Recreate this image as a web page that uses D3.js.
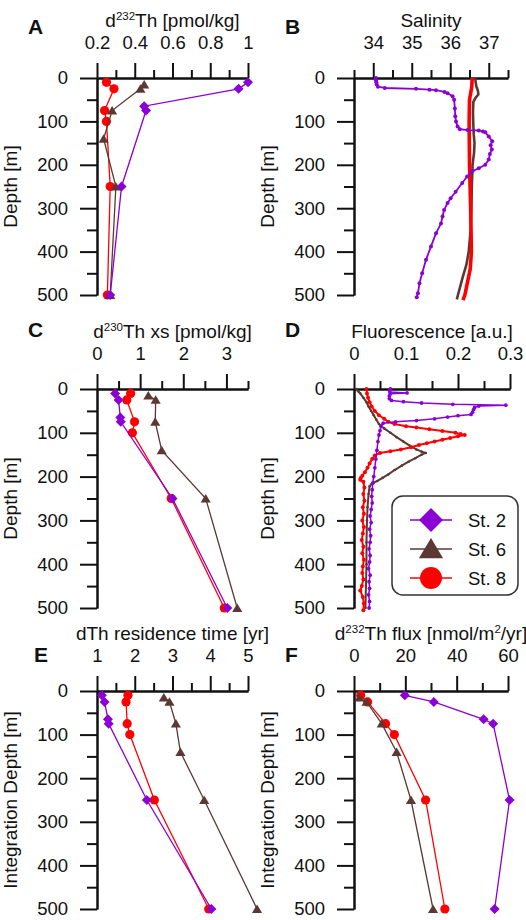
<!DOCTYPE html>
<html>
<head>
<meta charset="utf-8">
<script src="https://cdn.jsdelivr.net/npm/d3@7"></script>
<style>
body { margin: 0; background: #fff; }
text { font-family: "Liberation Sans", Arial, sans-serif; fill: #111; }
</style>
</head>
<body>
<div id="chart"></div>
<script>
// sampling depths of the bottle stations [m]
var st2Depth = [10, 25, 65, 75, 250, 500];
var st6Depth = [15, 25, 75, 140, 250, 500];
var st8Depth = [10, 25, 75, 100, 250, 500];

// A: dissolved 232Th [pmol/kg]
var th232St2 = [1.0, 0.95, 0.45, 0.46, 0.33, 0.27];
var th232St6 = [0.45, 0.43, 0.28, 0.235, 0.30, 0.27];
var th232St8 = [0.25, 0.29, 0.24, 0.25, 0.27, 0.255];

// C: dissolved 230Th xs [pmol/kg]
var th230St2 = [0.42, 0.50, 0.54, 0.55, 1.75, 3.02];
var th230St6 = [1.19, 1.36, 1.35, 1.50, 2.52, 3.25];
var th230St8 = [0.78, 0.69, 0.87, 0.82, 1.72, 2.95];

// E: residence time [yr]
var resSt2 = [1.13, 1.20, 1.29, 1.31, 2.32, 4.03];
var resSt6 = [2.77, 2.92, 3.09, 3.21, 3.84, 5.24];
var resSt8 = [1.82, 1.77, 1.80, 1.87, 2.52, 3.96];

// F: 232Th flux [nmol/m2/yr]
var fluxSt2 = [19.8, 31.1, 50.5, 54.2, 60.6, 54.8];
var fluxSt6 = [2.1, 4.9, 10.8, 16.6, 22.2, 30.8];
var fluxSt8 = [2.6, 5.3, 12.3, 15.7, 27.9, 35.4];

// B: CTD salinity profiles
var salSt2Depth = [0, 5, 10, 15, 20, 23, 25, 27, 28, 32, 35, 42, 50, 70, 88, 100, 112, 118, 120, 121, 123, 125, 135, 146, 155, 165, 175, 188, 200, 208, 215, 227, 242, 262, 277, 288, 304, 319, 335, 358, 388, 419, 450, 473, 496, 505];
var salSt2 = [34.07, 34.07, 34.08, 34.09, 34.12, 34.3, 35.11, 35.46, 35.63, 35.85, 35.93, 36.06, 36.1, 36.12, 36.13, 36.15, 36.19, 36.25, 36.45, 36.74, 36.85, 36.91, 37.0, 37.09, 37.05, 37.08, 37.03, 37.0, 36.91, 36.74, 36.57, 36.44, 36.31, 36.14, 36.01, 35.93, 35.84, 35.8, 35.76, 35.63, 35.5, 35.37, 35.27, 35.2, 35.16, 35.13];
var salSt6Depth = [0, 10, 20, 30, 38, 45, 55, 80, 110, 130, 150, 170, 200, 250, 300, 350, 400, 430, 460, 480, 500, 510];
var salSt6 = [36.65, 36.66, 36.68, 36.72, 36.73, 36.66, 36.6, 36.59, 36.6, 36.61, 36.63, 36.62, 36.58, 36.56, 36.55, 36.53, 36.48, 36.42, 36.32, 36.26, 36.2, 36.17];
var salSt8Depth = [0, 20, 35, 50, 100, 200, 300, 400, 440, 470, 500, 512];
var salSt8 = [36.57, 36.56, 36.53, 36.5, 36.49, 36.5, 36.53, 36.55, 36.52, 36.45, 36.38, 36.33];

// D: CTD fluorescence profiles [a.u.]
var fluoSt2Depth = [0, 3, 7, 9, 11, 16, 22, 26, 29, 32, 35, 37, 39, 42, 47, 53, 58, 61, 64, 68, 72, 75, 78, 85, 95, 105, 120, 140, 160, 180, 200, 215, 230, 245, 260, 275, 290, 305, 320, 335, 350, 365, 380, 395, 410, 425, 440, 455, 470, 485, 500];
var fluoSt2 = [0.07, 0.068, 0.069, 0.102, 0.07, 0.068, 0.068, 0.072, 0.095, 0.13, 0.19, 0.292, 0.24, 0.232, 0.23, 0.228, 0.225, 0.2, 0.18, 0.155, 0.12, 0.08, 0.056, 0.052, 0.05, 0.048, 0.046, 0.044, 0.042, 0.04, 0.038, 0.036, 0.035, 0.034, 0.035, 0.033, 0.031, 0.033, 0.03, 0.032, 0.031, 0.029, 0.031, 0.03, 0.028, 0.031, 0.029, 0.03, 0.028, 0.03, 0.029];
var fluoSt6Depth = [0, 5, 10, 20, 30, 40, 50, 60, 70, 80, 90, 100, 110, 120, 130, 138, 143, 146, 150, 158, 166, 175, 185, 195, 203, 210, 215, 222, 240, 270, 300, 350, 400, 450, 500];
var fluoSt6 = [0.005, 0.008, 0.012, 0.018, 0.024, 0.028, 0.033, 0.038, 0.043, 0.048, 0.058, 0.07, 0.082, 0.095, 0.108, 0.12, 0.13, 0.138, 0.13, 0.118, 0.105, 0.092, 0.078, 0.066, 0.055, 0.045, 0.035, 0.03, 0.028, 0.026, 0.025, 0.024, 0.024, 0.023, 0.022];
var fluoSt8Depth = [0, 10, 20, 30, 40, 50, 60, 68, 75, 80, 85, 88, 92, 96, 100, 103, 105, 108, 112, 116, 120, 124, 128, 133, 138, 142, 146, 152, 160, 170, 180, 190, 198, 203, 207, 212, 225, 240, 255, 270, 285, 300, 315, 330, 345, 360, 375, 390, 405, 420, 435, 450, 460, 475, 490, 505];
var fluoSt8 = [0.024, 0.025, 0.027, 0.03, 0.034, 0.04, 0.048, 0.058, 0.066, 0.078, 0.1, 0.12, 0.145, 0.17, 0.195, 0.205, 0.213, 0.2, 0.185, 0.17, 0.155, 0.14, 0.125, 0.11, 0.09, 0.07, 0.05, 0.04, 0.035, 0.03, 0.026, 0.021, 0.016, 0.013, 0.012, 0.018, 0.02, 0.018, 0.02, 0.017, 0.019, 0.016, 0.019, 0.017, 0.015, 0.018, 0.016, 0.019, 0.017, 0.016, 0.018, 0.015, 0.012, 0.017, 0.019, 0.018];

var legendLabels = ['St. 2', 'St. 6', 'St. 8'];
var depthTicks = [0, 100, 200, 300, 400, 500];
var depthMinor = [50, 150, 250, 350, 450];

var purple = '#8b00d4', brown = '#5c3833', red = '#ff0000';

var svg = d3.select('#chart').append('svg')
    .attr('width', 526)
    .attr('height', 920);

var font = '"Liberation Sans", Arial, sans-serif';

function styleAxis(g) {
    g.attr('font-size', 18.5).attr('font-family', font);
    g.selectAll('path, line').attr('stroke', '#111').attr('stroke-width', 2);
    g.selectAll('text').attr('fill', '#111');
}

function panel(p) {
    var x = d3.scaleLinear().domain(p.domain).range([p.x0, p.x1]);
    var y = d3.scaleLinear().domain([0, 500]).range([p.y0, p.y1]);

    // top axis: minor then major
    svg.append('g').attr('transform', 'translate(0,' + p.y0 + ')')
        .call(d3.axisTop(x).tickValues(p.minor).tickSize(8).tickSizeOuter(0).tickFormat(''))
        .call(styleAxis);
    svg.append('g').attr('transform', 'translate(0,' + p.y0 + ')')
        .call(d3.axisTop(x).tickValues(p.major).tickSize(15).tickSizeOuter(0).tickPadding(14)
            .tickFormat(p.fmt || d3.format('')))
        .call(styleAxis);

    // left axis
    svg.append('g').attr('transform', 'translate(' + p.x0 + ',0)')
        .call(d3.axisLeft(y).tickValues(depthMinor).tickSize(10).tickSizeOuter(0).tickFormat(''))
        .call(styleAxis);
    svg.append('g').attr('transform', 'translate(' + p.x0 + ',0)')
        .call(d3.axisLeft(y).tickValues(depthTicks).tickSize(17).tickSizeOuter(0).tickPadding(12))
        .call(styleAxis);

    // title
    var t = svg.append('text')
        .attr('x', (p.x0 + p.x1) / 2)
        .attr('y', p.y0 - 51)
        .attr('text-anchor', 'middle')
        .attr('font-size', 19);
    p.title.forEach(function (part) {
        var s = t.append('tspan').text(part.t);
        if (part.sup) s.attr('font-size', 11.5).attr('dy', -7);
        else if (part.after) s.attr('dy', 7);
    });

    // panel letter
    svg.append('text')
        .attr('x', p.letterX).attr('y', p.letterY)
        .attr('font-size', 21).attr('font-weight', 'bold')
        .text(p.letter);

    // y label
    svg.append('text')
        .attr('transform', 'translate(' + (p.x0 - 80) + ',' + ((p.y0 + p.y1) / 2) + ') rotate(-90)')
        .attr('text-anchor', 'middle')
        .attr('font-size', 19)
        .text(p.ylabel);

    return { x: x, y: y, g: svg.append('g') };
}

function sup(label, s, rest) {
    return [{ t: label }, { t: s, sup: true }, { t: rest, after: true }];
}

var diamond = function (r) { return 'M0,' + (-r) + 'L' + r + ',0L0,' + r + 'L' + (-r) + ',0Z'; };
var triangle = function (r) { return 'M0,' + (-r) + 'L' + (r * 1.1) + ',' + (r * 0.85) + 'L' + (-r * 1.1) + ',' + (r * 0.85) + 'Z'; };

function stationSeries(pn, depths, vals, color, shape) {
    var pts = depths.map(function (d, i) { return [vals[i], d]; });
    var line = d3.line().x(function (d) { return pn.x(d[0]); }).y(function (d) { return pn.y(d[1]); });
    pn.g.append('path').datum(pts)
        .attr('d', line).attr('fill', 'none').attr('stroke', color).attr('stroke-width', 1.3);
    var m = pn.g.selectAll(null).data(pts).enter();
    if (shape === 'circle') {
        m.append('circle')
            .attr('cx', function (d) { return pn.x(d[0]); })
            .attr('cy', function (d) { return pn.y(d[1]); })
            .attr('r', 4.6).attr('fill', color);
    } else {
        m.append('path')
            .attr('transform', function (d) { return 'translate(' + pn.x(d[0]) + ',' + pn.y(d[1]) + ')'; })
            .attr('d', shape === 'diamond' ? diamond(5) : triangle(4.6))
            .attr('fill', color);
    }
}

function profile(pn, depths, vals, color, width, dotR) {
    var pts = depths.map(function (d, i) { return [vals[i], d]; });
    var line = d3.line().x(function (d) { return pn.x(d[0]); }).y(function (d) { return pn.y(d[1]); });
    pn.g.append('path').datum(pts)
        .attr('d', line).attr('fill', 'none').attr('stroke', color).attr('stroke-width', width)
        .attr('stroke-linejoin', 'round');
    if (dotR) {
        pn.g.selectAll(null).data(pts).enter().append('circle')
            .attr('cx', function (d) { return pn.x(d[0]); })
            .attr('cy', function (d) { return pn.y(d[1]); })
            .attr('r', dotR).attr('fill', color);
    }
}

function threeStations(pn, a2, a6, a8) {
    stationSeries(pn, st8Depth, a8, red, 'circle');
    stationSeries(pn, st6Depth, a6, brown, 'triangle');
    stationSeries(pn, st2Depth, a2, purple, 'diamond');
}

var fmtTrim = function (d) { return d3.format('.1f')(d).replace(/\.0$/, ''); };

// A
var pA = panel({
    x0: 97, x1: 248, y0: 78, y1: 295, domain: [0.2, 1.0],
    major: [0.2, 0.4, 0.6, 0.8, 1.0], minor: [0.3, 0.5, 0.7, 0.9],
    fmt: fmtTrim,
    title: sup('d', '232', 'Th [pmol/kg]'), letter: 'A', letterX: 28, letterY: 34, ylabel: 'Depth [m]'
});
threeStations(pA, th232St2, th232St6, th232St8);

// B
var pB = panel({
    x0: 354, x1: 508, y0: 78, y1: 295, domain: [33.5, 37.5],
    major: [34, 35, 36, 37], minor: [33.5, 34.5, 35.5, 36.5, 37.5],
    title: [{ t: 'Salinity' }], letter: 'B', letterX: 285, letterY: 34, ylabel: 'Depth [m]'
});
profile(pB, salSt6Depth, salSt6, brown, 2.6, 0);
profile(pB, salSt8Depth, salSt8, red, 3.6, 0);
profile(pB, salSt2Depth, salSt2, purple, 1.8, 2);

// C
var pC = panel({
    x0: 97, x1: 248, y0: 389, y1: 608, domain: [0, 3.5],
    major: [0, 1, 2, 3], minor: [0.5, 1.5, 2.5, 3.5],
    title: sup('d', '230', 'Th xs [pmol/kg]'), letter: 'C', letterX: 28, letterY: 337, ylabel: 'Depth [m]'
});
threeStations(pC, th230St2, th230St6, th230St8);

// D
var pD = panel({
    x0: 354, x1: 510, y0: 389, y1: 608, domain: [0, 0.3],
    major: [0, 0.1, 0.2, 0.3], minor: [0.05, 0.15, 0.25],
    fmt: function (d) { return d === 0 ? '0' : d3.format('.1f')(d); },
    title: [{ t: 'Fluorescence [a.u.]' }], letter: 'D', letterX: 285, letterY: 337, ylabel: 'Depth [m]'
});
profile(pD, fluoSt6Depth, fluoSt6, brown, 2, 1.3);
profile(pD, fluoSt8Depth, fluoSt8, red, 2, 2);
profile(pD, fluoSt2Depth, fluoSt2, purple, 1.5, 1.9);

// legend
var lg = svg.append('g');
lg.append('rect').attr('x', 392).attr('y', 496).attr('width', 126).attr('height', 99)
    .attr('rx', 11).attr('fill', '#fff').attr('stroke', '#333').attr('stroke-width', 1.5);
var legendColors = [purple, brown, red];
legendLabels.forEach(function (lab, i) {
    var cy = 520 + i * 29;
    lg.append('line').attr('x1', 410).attr('x2', 452).attr('y1', cy).attr('y2', cy)
        .attr('stroke', legendColors[i]).attr('stroke-width', 1.5);
    if (i === 2) {
        lg.append('circle').attr('cx', 431).attr('cy', cy).attr('r', 11).attr('fill', red);
    } else {
        lg.append('path').attr('transform', 'translate(431,' + cy + ')')
            .attr('d', i === 0 ? diamond(12) : triangle(11)).attr('fill', legendColors[i]);
    }
    lg.append('text').attr('x', 468).attr('y', cy + 7).attr('font-size', 18.5).text(lab);
});

// E
var pE = panel({
    x0: 97, x1: 248, y0: 691, y1: 909, domain: [1, 5],
    major: [1, 2, 3, 4, 5], minor: [1.5, 2.5, 3.5, 4.5],
    title: [{ t: 'dTh residence time [yr]' }],
    letter: 'E', letterX: 34, letterY: 662, ylabel: 'Integration Depth [m]'
});
threeStations(pE, resSt2, resSt6, resSt8);

// F
var pF = panel({
    x0: 354, x1: 508, y0: 691, y1: 909, domain: [0, 60],
    major: [0, 20, 40, 60], minor: [10, 30, 50],
    title: [{ t: 'd' }, { t: '232', sup: true }, { t: 'Th flux [nmol/m', after: true }, { t: '2', sup: true }, { t: '/yr]', after: true }],
    letter: 'F', letterX: 285, letterY: 662, ylabel: 'Integration Depth [m]'
});
threeStations(pF, fluxSt2, fluxSt6, fluxSt8);
</script>
</body>
</html>
